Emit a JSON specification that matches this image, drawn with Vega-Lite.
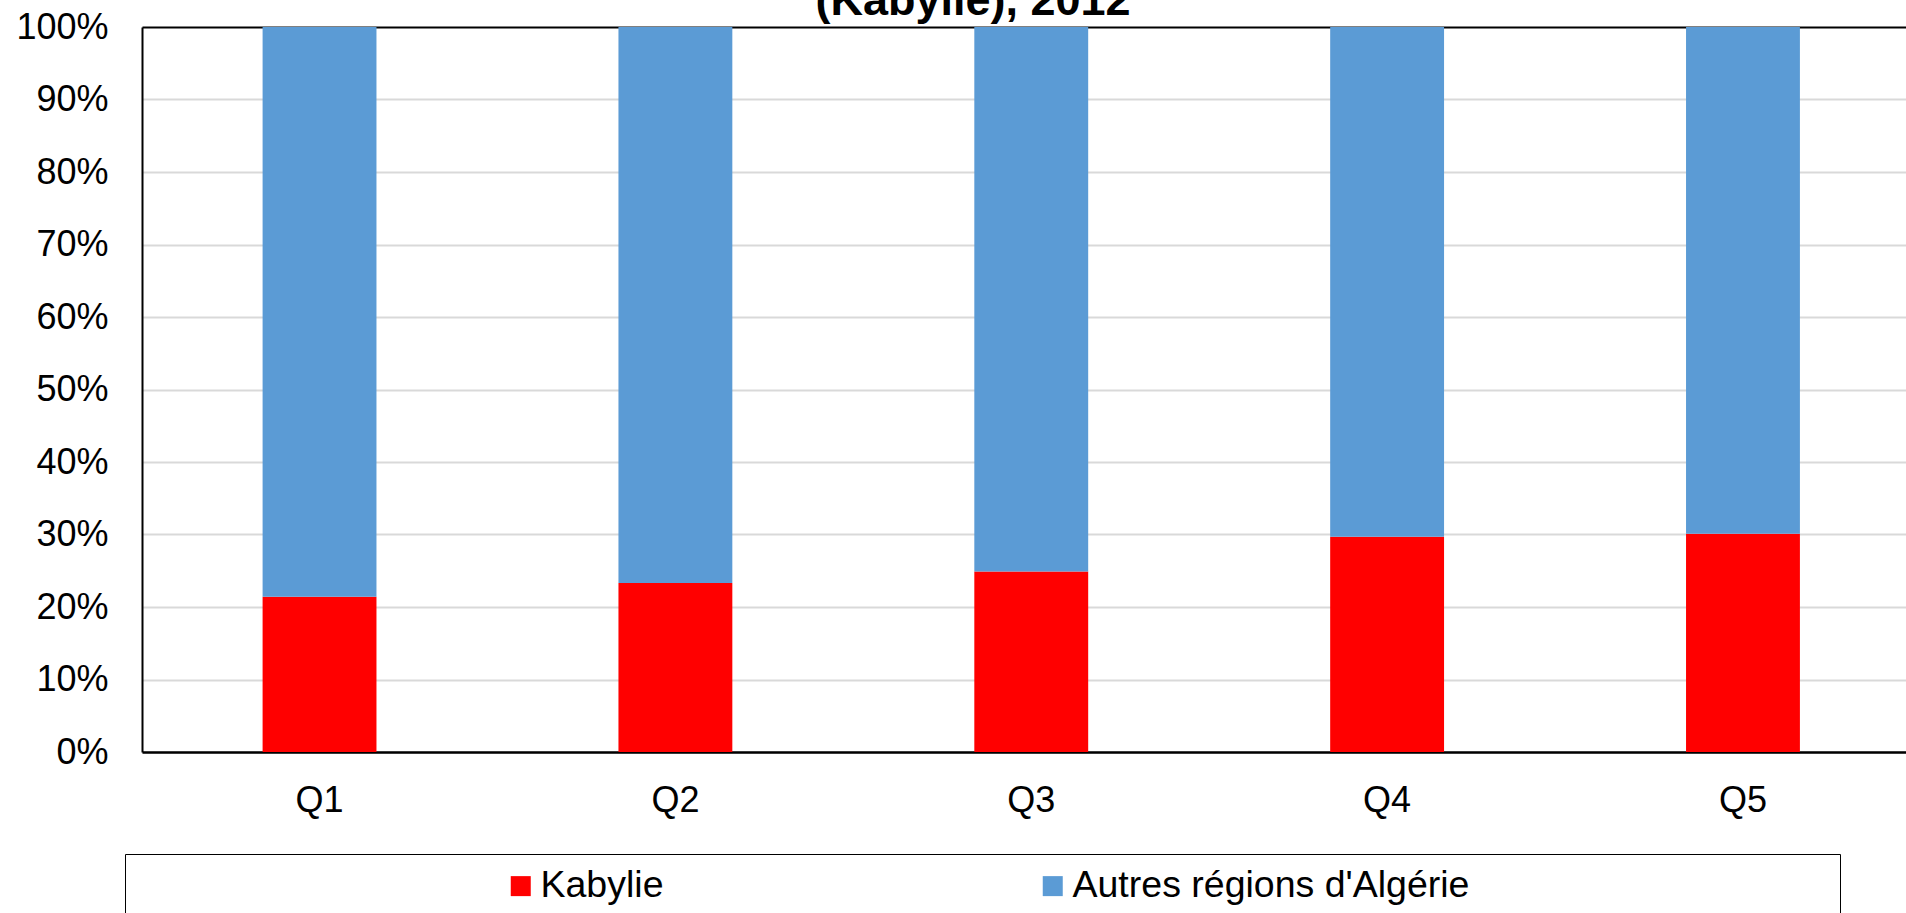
{
  "$schema": "https://vega.github.io/schema/vega-lite/v6.json",
  "autosize": "none",
  "width": 1764,
  "height": 725,
  "padding": {"left": 142, "top": 27, "right": 0, "bottom": 161},
  "background": "white",
  "title": {
    "text": "(Kabylie), 2012",
    "font": "Liberation Sans",
    "fontSize": 45,
    "fontWeight": "bold",
    "color": "black",
    "anchor": "middle",
    "baseline": "alphabetic",
    "offset": -51,
    "dx": -51
  },
  "data": {
    "values": [
      {"quintile": "Q1", "series": "Kabylie", "value": 0.214},
      {"quintile": "Q1", "series": "Autres régions d'Algérie", "value": 0.786},
      {"quintile": "Q2", "series": "Kabylie", "value": 0.233},
      {"quintile": "Q2", "series": "Autres régions d'Algérie", "value": 0.767},
      {"quintile": "Q3", "series": "Kabylie", "value": 0.249},
      {"quintile": "Q3", "series": "Autres régions d'Algérie", "value": 0.751},
      {"quintile": "Q4", "series": "Kabylie", "value": 0.297},
      {"quintile": "Q4", "series": "Autres régions d'Algérie", "value": 0.703},
      {"quintile": "Q5", "series": "Kabylie", "value": 0.301},
      {"quintile": "Q5", "series": "Autres régions d'Algérie", "value": 0.699}
    ]
  },
  "mark": {"type": "bar"},
  "encoding": {
    "x": {
      "field": "quintile",
      "type": "nominal",
      "scale": {"paddingInner": 0.68, "paddingOuter": 0.3185, "align": 0.532},
      "axis": {
        "title": null,
        "labelAngle": 0,
        "labelFont": "Liberation Sans",
        "labelFontSize": 36,
        "labelColor": "black",
        "labelBaseline": "alphabetic",
        "labelPadding": 59,
        "ticks": false,
        "tickSize": 0,
        "domain": true,
        "domainColor": "black",
        "domainWidth": 2.5,
        "grid": false
      }
    },
    "y": {
      "field": "value",
      "type": "quantitative",
      "stack": "zero",
      "scale": {"domain": [0, 1], "nice": false},
      "axis": {
        "title": null,
        "values": [0, 0.1, 0.2, 0.3, 0.4, 0.5, 0.6, 0.7, 0.8, 0.9, 1],
        "format": ".0%",
        "labelFont": "Liberation Sans",
        "labelFontSize": 36,
        "labelColor": "black",
        "labelPadding": 34,
        "ticks": false,
        "tickSize": 0,
        "domain": true,
        "domainColor": "black",
        "domainWidth": 2,
        "grid": true,
        "gridColor": {"condition": {"test": "datum.value === 1", "value": "black"}, "value": "#d9d9d9"},
        "gridWidth": 2
      }
    },
    "color": {
      "field": "series",
      "type": "nominal",
      "scale": {"domain": ["Kabylie", "Autres régions d'Algérie"], "range": ["#ff0000", "#5b9bd5"]},
      "legend": {
        "title": "\u00a0",
        "titleOrient": "right",
        "titlePadding": 358,
        "titleFontSize": 36,
        "orient": "none",
        "legendX": -17,
        "legendY": 827,
        "direction": "horizontal",
        "columns": 2,
        "strokeColor": "black",
        "padding": 13,
        "symbolType": "square",
        "symbolSize": 400,
        "symbolStrokeWidth": 0,
        "symbolOffset": 364,
        "labelOffset": 1,
        "columnPadding": 6,
        "labelFont": "Liberation Sans",
        "labelFontSize": 37.5,
        "labelColor": "black",
        "labelLimit": 1000
      }
    },
    "order": {"field": "series", "sort": "descending"}
  },
  "config": {"view": {"stroke": null}}
}
